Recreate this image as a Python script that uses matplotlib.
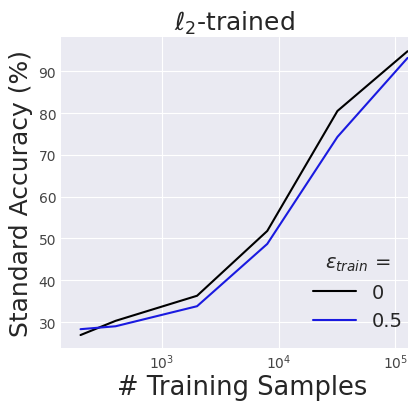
import numpy as np
import matplotlib
matplotlib.use("Agg")
import matplotlib.pyplot as plt

# training set sizes
n_samples = [200, 400, 2000, 8000, 32000, 128000]

# standard accuracy (%) for each eps_train
acc_eps0 = [26.9, 30.3, 36.3, 51.8, 80.5, 94.8]
acc_eps05 = [28.3, 29.0, 33.8, 48.7, 74.3, 93.2]

labels = ["0", "0.5"]
colors = ["black", "#1a1ae0"]

plt.style.use("seaborn-v0_8-darkgrid")
plt.rcParams["font.family"] = ["DejaVu Sans"]
plt.rcParams["mathtext.fontset"] = "dejavusans"

fig = plt.figure(figsize=(4.12, 4.02), dpi=100)
ax = fig.add_axes([61 / 412, 53 / 402, 347 / 412, 311 / 402])

ax.plot(n_samples, acc_eps0, color=colors[0], lw=1.5, label=labels[0])
ax.plot(n_samples, acc_eps05, color=colors[1], lw=1.5, label=labels[1])

ax.set_xscale("log")
ax.set_xlim(136, 129000)
ax.set_ylim(23.8, 98.2)
ax.set_yticks([30, 40, 50, 60, 70, 80, 90])
ax.grid(which="minor", visible=False)
ax.tick_params(labelsize=10, labelcolor="#444444")

ax.set_title(r"$\ell_2$-trained", fontsize=18, color="#262626", pad=5)
ax.set_xlabel("# Training Samples", fontsize=18.5, color="#262626")
ax.xaxis.set_label_coords(0.522, -0.085)
ax.set_ylabel("Standard Accuracy (%)", fontsize=18, color="#262626", labelpad=4)

leg = ax.legend(title=r"$\varepsilon_{train}$ =", loc="lower right",
                bbox_to_anchor=(1.035, 0.0),
                fontsize=14, title_fontsize=14, frameon=False,
                handlelength=2.2, labelspacing=0.5)

fig.savefig("out.png", dpi=100)
